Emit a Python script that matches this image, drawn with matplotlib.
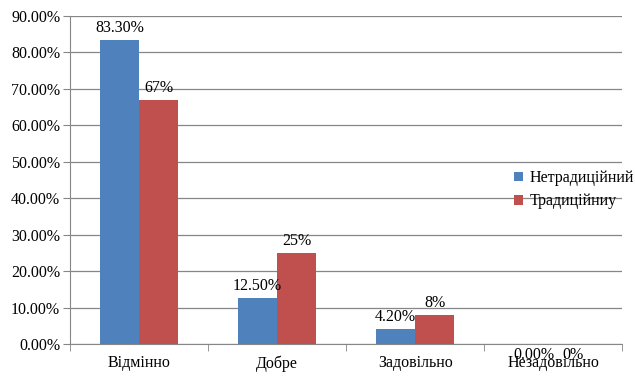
import numpy as np
import matplotlib.pyplot as plt

# Data
categories = ["Відмінно", "Добре", "Задовільно", "Незадовільно"]
netrad = [0.833, 0.125, 0.042, 0.0]
trad = [0.67, 0.25, 0.08, 0.0]
netrad_labels = ["83.30%", "12.50%", "4.20%", "0.00%"]
trad_labels = ["67%", "25%", "8%", "0%"]

plt.rcParams['font.family'] = ['Liberation Serif', 'DejaVu Serif']
plt.rcParams['font.size'] = 11.5

fig = plt.figure(figsize=(6.35, 3.78), dpi=100)
ax = fig.add_axes([0.110, 0.090, 0.870, 0.868])

x = np.arange(len(categories))
w = 0.283
b1 = ax.bar(x - w / 2, netrad, w, color="#4f81bd", label="Нетрадиційний", zorder=3)
b2 = ax.bar(x + w / 2, trad, w, color="#c0504d", label="Традиційниу", zorder=3)

# value labels above bars
for bars, labels in [(b1, netrad_labels), (b2, trad_labels)]:
    for bar, lab in zip(bars, labels):
        h = bar.get_height()
        off = 3 if h > 0 else -14
        ax.annotate(lab, (bar.get_x() + bar.get_width() / 2, h),
                    xytext=(0, off), textcoords="offset points",
                    ha="center", va="bottom", zorder=4)

ax.set_xlim(-0.5, 3.5)
ax.set_ylim(0, 0.9)
ax.set_yticks(np.arange(0, 0.91, 0.1))
ax.set_yticklabels(["%.2f%%" % (v * 100) for v in np.arange(0, 0.91, 0.1)])
ax.yaxis.grid(True, color="#868686", linewidth=0.9, zorder=0)

ax.set_xticks(x)
ax.set_xticklabels(categories)
ax.tick_params(axis="x", length=0, pad=8)
ax.set_xticks(np.arange(-0.5, 4, 1), minor=True)
ax.tick_params(axis="x", which="minor", length=5, color="#868686")
ax.tick_params(axis="y", length=5, color="#868686", pad=2)

for s in ["top", "right"]:
    ax.spines[s].set_visible(False)
for s in ["left", "bottom"]:
    ax.spines[s].set_color("#868686")

ax.legend(loc="center left", bbox_to_anchor=(0.804, 0.47), frameon=False,
          handlelength=0.55, handleheight=0.55, handletextpad=0.45,
          labelspacing=0.45, borderpad=0, borderaxespad=0)

plt.savefig("out.png", dpi=100)
